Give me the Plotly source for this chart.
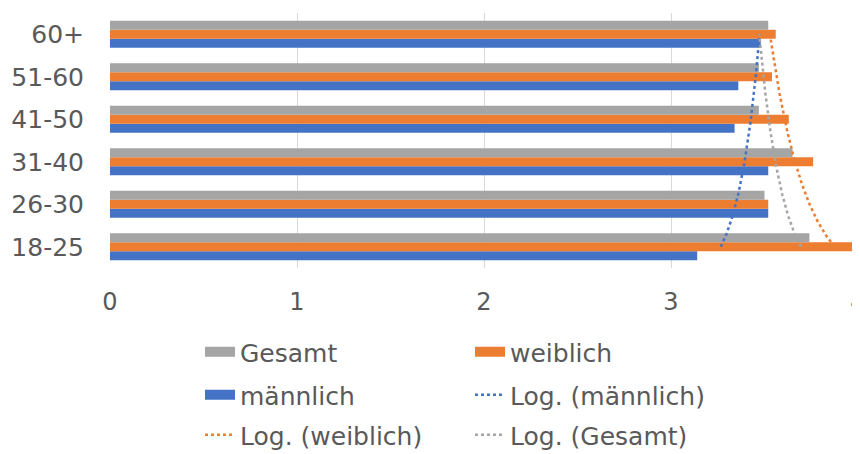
import numpy as np
import plotly.graph_objects as go

categories = ["18-25", "26-30", "31-40", "41-50", "51-60", "60+"]
gesamt = [3.74, 3.50, 3.65, 3.47, 3.47, 3.52]
weiblich = [3.97, 3.52, 3.76, 3.63, 3.54, 3.56]
maennlich = [3.14, 3.52, 3.52, 3.34, 3.36, 3.48]
x_ticks = [0, 1, 2, 3, 4]

C_GRAY = "#A5A5A5"
C_ORANGE = "#ED7D31"
C_BLUE = "#4472C4"
FONT = "DejaVu Sans"
TXT = "#595959"

W, H = 860, 446  # page body has an 8px margin inside the 860x454 window

pos = list(range(len(categories)))

fig = go.Figure()

# Bars (first trace = bottom of each group)
for name, vals, col, grp in [("männlich", maennlich, C_BLUE, "m"),
                             ("weiblich", weiblich, C_ORANGE, "w"),
                             ("Gesamt", gesamt, C_GRAY, "g")]:
    fig.add_trace(go.Bar(x=vals, y=pos, orientation="h", name=name,
                         marker=dict(color=col, line=dict(width=0)),
                         legendgroup=grp, showlegend=False))

# Logarithmic trendlines (Excel style: y = a*ln(k) + b, k = 1..n)
k = np.arange(1, len(categories) + 1)
t = np.linspace(1, len(categories), 200)
trend_defs = [("Log. (männlich)", maennlich, C_BLUE, "legend2", 4),
              ("Log. (weiblich)", weiblich, C_ORANGE, "legend3", 5),
              ("Log. (Gesamt)", gesamt, C_GRAY, "legend3", 6)]
for name, vals, col, leg, rank in trend_defs:
    a, b = np.polyfit(np.log(k), np.array(vals), 1)
    fig.add_trace(go.Scatter(x=a * np.log(t) + b, y=t - 1, mode="lines",
                             name=name, line=dict(color=col, width=2.5, dash="dot"),
                             legend=leg, legendrank=rank, hoverinfo="skip"))

# Legend entries for bars (wide rectangular keys)
for name, col, grp, leg, rank in [("Gesamt", C_GRAY, "g", "legend", 1),
                                  ("weiblich", C_ORANGE, "w", "legend", 2),
                                  ("männlich", C_BLUE, "m", "legend2", 3)]:
    fig.add_trace(go.Scatter(x=[None], y=[None], mode="lines", name=name,
                             line=dict(color=col, width=13),
                             legendgroup=grp, legend=leg, legendrank=rank))

leg_common = dict(orientation="h", xref="container", yref="container",
                  xanchor="left", yanchor="middle", entrywidth=225,
                  entrywidthmode="pixels", font=dict(family=FONT, size=25, color=TXT),
                  bgcolor="rgba(0,0,0,0)", traceorder="normal")
lx = 192 / W

fig.update_layout(
    width=W, height=H,
    margin=dict(l=102, r=10, t=5, b=186),
    paper_bgcolor="white", plot_bgcolor="white",
    barmode="group", bargap=0.36, bargroupgap=0,
    font=dict(family=FONT, size=24, color=TXT),
    xaxis=dict(range=[0, 4], tickvals=x_ticks, showgrid=True, gridcolor="#D9D9D9",
               gridwidth=1, zeroline=False, showline=False, ticks="",
               ticklabelstandoff=17, automargin=False, fixedrange=True),
    yaxis=dict(range=[-0.5, 5.5], tickvals=pos, ticktext=categories, showgrid=False,
               zeroline=False, showline=False, ticks="", ticklabelstandoff=25,
               automargin=False, fixedrange=True, tickfont=dict(size=25)),
    legend=dict(x=lx, y=1 - 344 / H, **leg_common),
    legend2=dict(x=lx, y=1 - 387 / H, **leg_common),
    legend3=dict(x=lx, y=1 - 427 / H, **leg_common),
    showlegend=True,
)

fig.write_html("out.html")
